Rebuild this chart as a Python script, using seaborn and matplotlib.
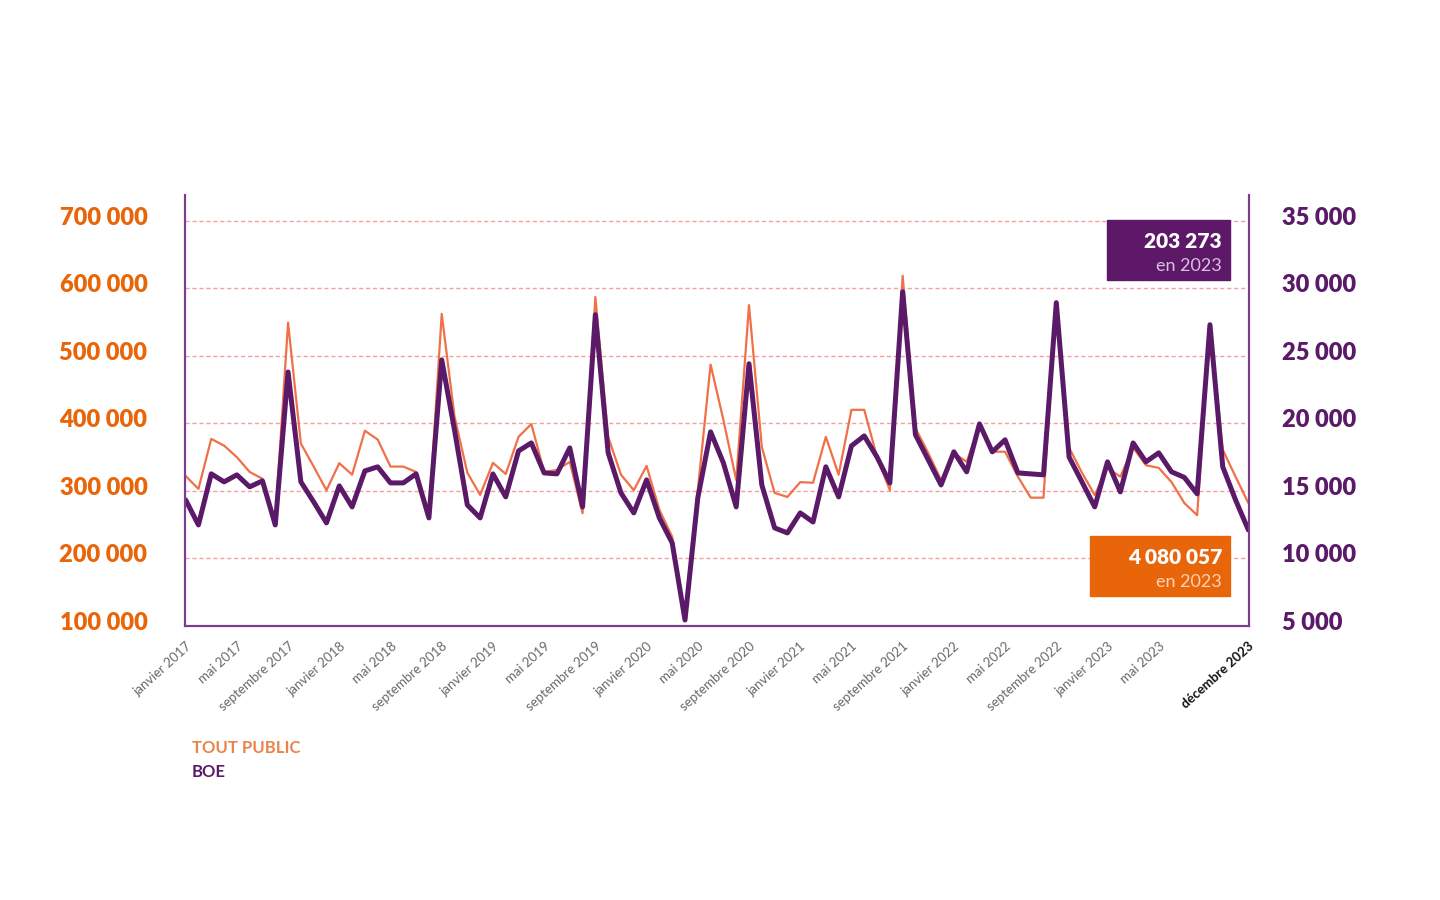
import numpy as np
import pandas as pd
import seaborn as sns
import matplotlib.ticker as mticker
import matplotlib.transforms as mtransforms
from matplotlib import pyplot as plt

sns.set_theme(style="white")
plt.rcParams["font.family"] = ["Lato", "DejaVu Sans"]

# données mensuelles janvier 2017 -> décembre 2023
tout_public = [
    322000, 303000, 377000, 367000, 350000, 328000, 318000, 255000, 549000, 370000, 336000, 301000,
    341000, 324000, 389000, 376000, 336000, 336000, 328000, 262000, 562000, 410000, 327000, 294000,
    341500, 325000, 380000, 399000, 328000, 331000, 343000, 267000, 587000, 380000, 324000, 301000,
    337000, 272000, 232000, 112000, 301000, 487000, 405000, 316000, 575000, 365000, 297000, 291000,
    313000, 312000, 380000, 324000, 420000, 420000, 350000, 301000, 618500, 393000, 356000, 316000,
    356000, 343000, 398000, 358000, 358000, 321000, 290000, 290000, 580000, 364000, 327000, 294000,
    334000, 321000, 364000, 338000, 334000, 313000, 282000, 264000, 545000, 361000, 321000, 282000,
]
boe = [
    14330, 12480, 16260, 15670, 16185, 15300, 15740, 12480, 23800, 15670, 14185, 12630,
    15370, 13815, 16480, 16780, 15590, 15590, 16260, 13000, 24700, 19500, 13960, 13000,
    16260, 14555, 17960, 18550, 16330, 16260, 18185, 13815, 28040, 17815, 14850, 13370,
    15815, 13000, 11150, 5445, 14480, 19370, 17070, 13815, 24410, 15440, 12260, 11890,
    13370, 12700, 16780, 14555, 18330, 19070, 17500, 15590, 29740, 19150, 17300, 15440,
    17890, 16410, 19960, 17890, 18780, 16330, 16260, 16185, 28930, 17500, 15670, 13815,
    17150, 14925, 18550, 17150, 17815, 16410, 16000, 14780, 27300, 16780, 14330, 12110,
]
mois = ["janvier", "mai", "septembre"]
annees = list(range(2017, 2024))
tick_labels = [f"{m} {a}" for a in annees for m in mois][:-1] + ["décembre 2023"]
tick_pos = list(range(0, 80, 4)) + [83]

orange = "#E8650A"
orange_line = "#F07048"
violet = "#5B1A68"
violet_axe = "#7A3E8C"

df = pd.DataFrame({"mois": range(len(boe)), "tout_public": tout_public, "boe": boe})

fig = plt.figure(figsize=(14.4, 9), dpi=100)
ax = fig.add_axes([185 / 1440, 1 - 626 / 900, (1249 - 185) / 1440, (626 - 195) / 900])
ax2 = ax.twinx()

sns.lineplot(data=df, x="mois", y="tout_public", ax=ax, color=orange_line, lw=1.6)
sns.lineplot(data=df, x="mois", y="boe", ax=ax2, color=violet, lw=3.6)

ax.set_xlim(-0.05, 83.05)
ax.set_ylim(100000, 738000)
ax2.set_ylim(5000, 36900)

fmt = mticker.FuncFormatter(lambda v, p: f"{int(v):,}".replace(",", " "))
ax.set_yticks(range(100000, 700001, 100000))
ax2.set_yticks(range(5000, 35001, 5000))
ax.yaxis.set_major_formatter(fmt)
ax2.yaxis.set_major_formatter(fmt)
ax.tick_params(axis="y", length=0, pad=27, labelsize=17, labelcolor=orange)
ax2.tick_params(axis="y", length=0, pad=24, labelsize=17, labelcolor=violet)
# libellés légèrement au-dessus des lignes de grille
offset = mtransforms.ScaledTranslation(0, 5 / 100, fig.dpi_scale_trans)
for t in ax.get_yticklabels() + ax2.get_yticklabels():
    t.set_fontweight("heavy")
    t.set_transform(t.get_transform() + offset)

ax.yaxis.grid(True, ls=(0, (3, 2)), color="#F2A0A0", lw=1)
ax.set_axisbelow(True)

ax.set_xticks(tick_pos)
ax.set_xticklabels(tick_labels, rotation=42, ha="right", rotation_mode="anchor",
                   fontsize=9.5, color="#6a6a6a")
ax.get_xticklabels()[-1].set_fontweight("bold")
ax.get_xticklabels()[-1].set_color("#111111")
ax.tick_params(axis="x", length=0, pad=10)
ax.set_xlabel("")
ax.set_ylabel("")
ax2.set_ylabel("")

for a in (ax, ax2):
    a.spines["top"].set_visible(False)
    for s in ("left", "right", "bottom"):
        a.spines[s].set_color(violet_axe)
        a.spines[s].set_linewidth(1.5)

# encadrés totaux
fig.text(1222 / 1440, 1 - 241 / 900, "203 273", ha="right", va="center",
         fontsize=15, fontweight="heavy", color="white", zorder=5)
fig.text(1222 / 1440, 1 - 266 / 900, "en 2023", ha="right", va="center",
         fontsize=13, color="#D8C0E0", zorder=5)
fig.patches.append(plt.Rectangle((1107 / 1440, 1 - 280 / 900), 123 / 1440, 60 / 900,
                                 transform=fig.transFigure, color="#5E1868", zorder=4))
fig.text(1222 / 1440, 1 - 558 / 900, "4 080 057", ha="right", va="center",
         fontsize=15, fontweight="heavy", color="white", zorder=5)
fig.text(1222 / 1440, 1 - 582 / 900, "en 2023", ha="right", va="center",
         fontsize=13, color="#FBD3B8", zorder=5)
fig.patches.append(plt.Rectangle((1090 / 1440, 1 - 596 / 900), 140 / 1440, 60 / 900,
                                 transform=fig.transFigure, color=orange, zorder=4))

# légende
fig.text(192 / 1440, 1 - 748 / 900, "TOUT PUBLIC", ha="left", va="center",
         fontsize=12, fontweight="bold", color="#E8834A")
fig.text(192 / 1440, 1 - 772 / 900, "BOE", ha="left", va="center",
         fontsize=12, fontweight="bold", color=violet)

plt.savefig("out.png", dpi=100)
plt.close()
